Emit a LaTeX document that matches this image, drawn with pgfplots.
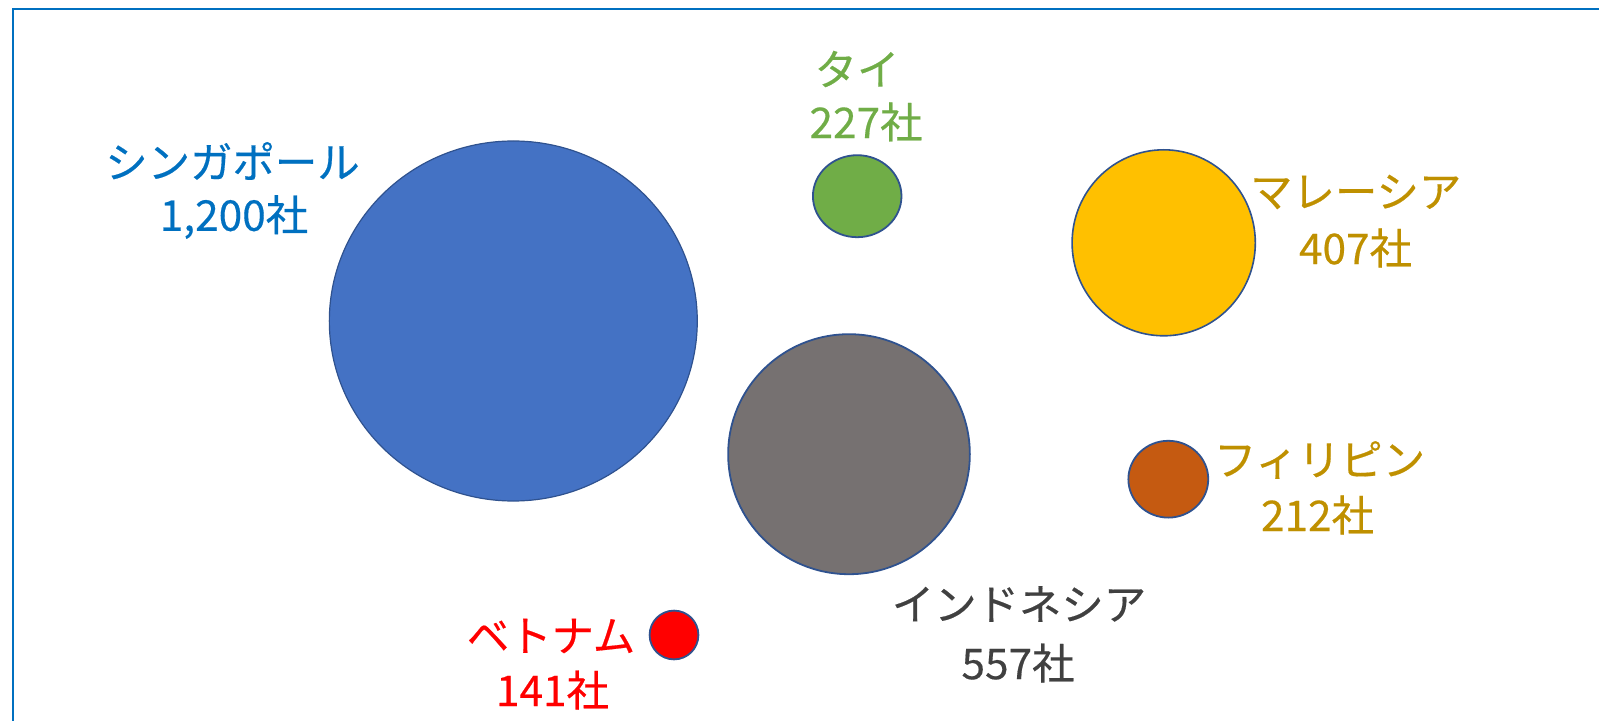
\documentclass[border=0pt]{standalone}
\usepackage{pgfplots}
\pgfplotsset{compat=1.18}
\usepackage{fontspec}
\newfontfamily\jp[FakeBold=0.4]{Noto Sans CJK JP}
\definecolor{sgL}{HTML}{0070C0}
\definecolor{sgB}{HTML}{4472C4}
\definecolor{edge}{HTML}{2F528F}
\definecolor{thB}{HTML}{70AD47}
\definecolor{myB}{HTML}{FFC000}
\definecolor{goldL}{HTML}{BF9000}
\definecolor{idB}{HTML}{767171}
\definecolor{idL}{HTML}{404040}
\definecolor{phB}{HTML}{C55A11}
\definecolor{vnB}{HTML}{FF0000}
\tikzset{lab/.style={font=\jp\fontsize{21.2}{25}\selectfont, inner sep=0pt}}
\begin{document}
\begin{tikzpicture}
\begin{axis}[
  width=799.5pt, height=360.5pt, scale only axis,
  xmin=0, xmax=1599, ymin=0, ymax=721, y dir=reverse,
  hide axis, clip=false,
]
% border
\draw[sgL, line width=1.2pt] (axis cs:13,721) -- (axis cs:13,9) -- (axis cs:1599,9);
% bubbles: x, y (pixel), radius
\addplot[only marks, mark=*, mark size=90pt, mark options={fill=sgB, draw=edge, line width=0.6pt, xscale=1.022}] coordinates {(513.3,321)};
\addplot[only marks, mark=*, mark size=20.5pt, mark options={fill=thB, draw=edge, line width=0.9pt, xscale=1.08}] coordinates {(857.2,196.2)};
\addplot[only marks, mark=*, mark size=46.5pt, mark options={fill=myB, draw=edge, line width=0.8pt, xscale=0.985}] coordinates {(1163.7,242.8)};
\addplot[only marks, mark=*, mark size=60pt, mark options={fill=idB, draw=edge, line width=0.9pt, xscale=1.007}] coordinates {(849,454.2)};
\addplot[only marks, mark=*, mark size=19.2pt, mark options={fill=phB, draw=edge, line width=0.9pt, xscale=1.04}] coordinates {(1168.3,479.2)};
\addplot[only marks, mark=*, mark size=12.2pt, mark options={fill=vnB, draw=edge, line width=0.9pt}] coordinates {(674,635)};
% labels
\node[lab, text=sgL] at (axis cs:232.5,161) {シンガポール};
\node[lab, text=sgL] at (axis cs:234,217) {1,200社};
\node[lab, text=thB] at (axis cs:857,69) {タイ};
\node[lab, text=thB] at (axis cs:866,122) {227社};
\node[lab, text=goldL] at (axis cs:1355.7,192) {マレーシア};
\node[lab, text=goldL] at (axis cs:1355.5,248) {407社};
\node[lab, text=goldL] at (axis cs:1319.5,460) {フィリピン};
\node[lab, text=goldL] at (axis cs:1317.5,515) {212社};
\node[lab, text=idL] at (axis cs:1019,604) {インドネシア};
\node[lab, text=idL] at (axis cs:1018,663) {557社};
\node[lab, text=vnB] at (axis cs:551,636) {ベトナム};
\node[lab, text=vnB] at (axis cs:552.5,690) {141社};
\end{axis}
\pgfresetboundingbox
\path (current axis.south west) rectangle (current axis.north east);
\end{tikzpicture}
\end{document}
